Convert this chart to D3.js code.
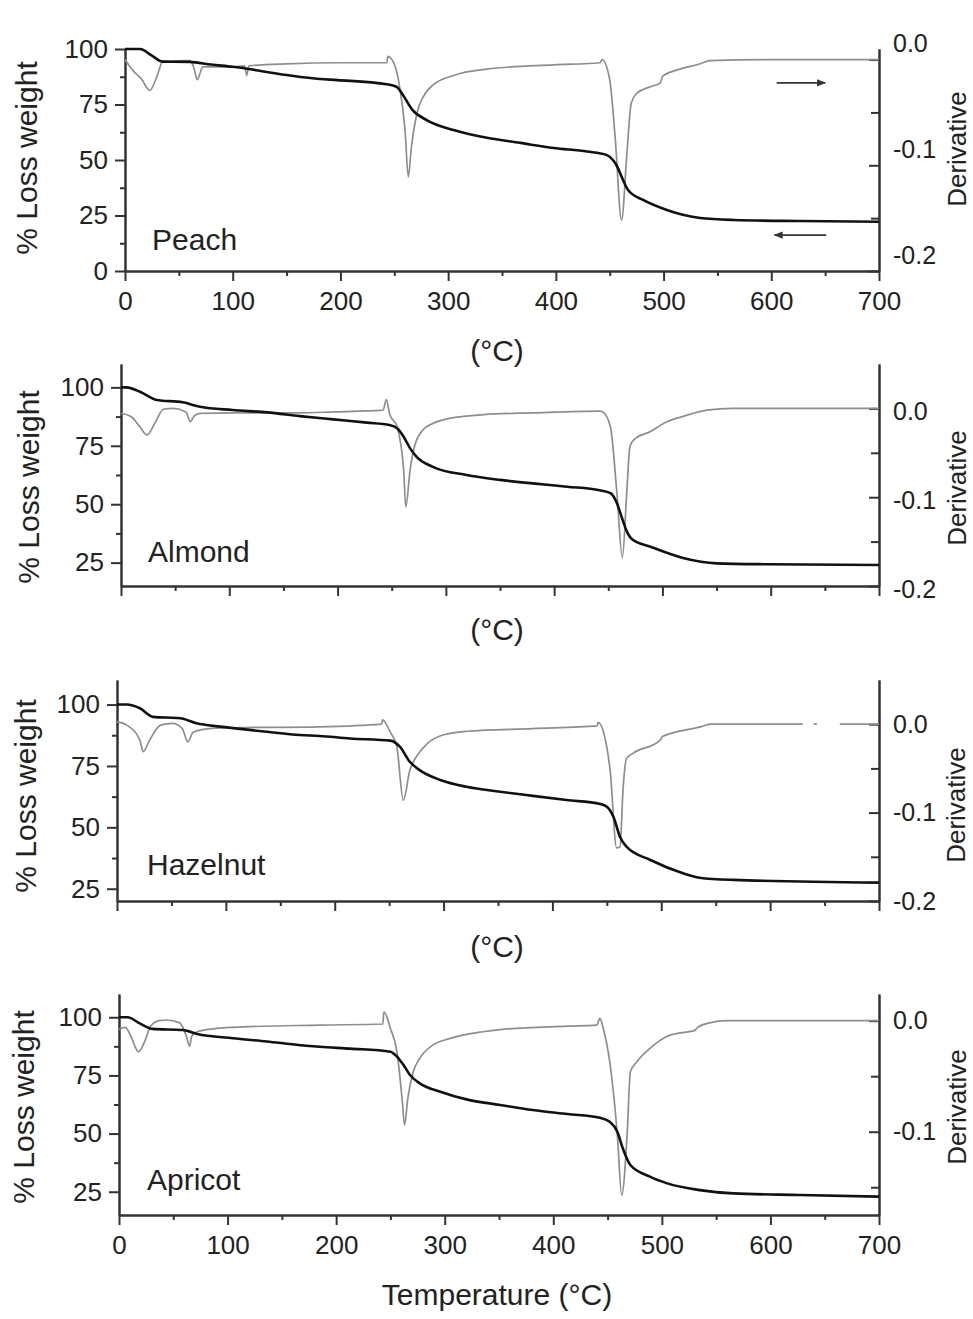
<!DOCTYPE html>
<html>
<head>
<meta charset="utf-8">
<script src="https://cdn.jsdelivr.net/npm/d3@7"></script>
<style>
  body { margin: 0; background: #fff; }
  svg text { font-family: "Liberation Sans", Arial, sans-serif; fill: #222; }
</style>
</head>
<body>
<svg id="chart" width="973" height="1319"></svg>
<script>
// TGA curves: [temperature °C, % weight]; DTG curves: [temperature °C, derivative]
const peachTG = [[0,100],[14,100],[25,97],[35,94.3],[60,94.2],[80,93],[100,92],[150,88.3],[181,86.5],[197,86],[243,84.1],[252,83],[258,79.3],[267,72.5],[280,68],[305,63.5],[336,60],[367,57.7],[398,55.4],[429,53.8],[447,52.3],[453,50],[457,47],[461,42.5],[467,36.5],[481,32],[503,27.5],[534,23.9],[565,23],[627,22.5],[700,22.2]];
const peachDTG = [[0,0],[7,-0.010],[15,-0.018],[23,-0.029],[30,-0.015],[35,-0.002],[60,-0.001],[64,-0.008],[67,-0.019],[70,-0.012],[72,-0.007],[100,-0.007],[111,-0.006],[113,-0.015],[115,-0.006],[150,-0.004],[200,-0.003],[243,-0.003],[244,0.003],[251,-0.007],[255,-0.026],[260,-0.067],[263,-0.111],[266,-0.082],[271,-0.051],[277,-0.035],[286,-0.024],[305,-0.015],[336,-0.009],[398,-0.005],[441,-0.003],[443,0.0],[450,-0.019],[455,-0.073],[461,-0.152],[466,-0.088],[470,-0.041],[475,-0.032],[487,-0.026],[497,-0.022],[499,-0.016],[512,-0.010],[534,-0.004],[543,-0.001],[600,0],[700,0]];

const almondTG = [[0,100],[5,100],[17.5,98.1],[33,94.6],[57,93.6],[73,91.7],[103,90.3],[135,89.3],[165,87.7],[196,86.3],[227,84.9],[248,83.9],[255,82.5],[261,78.9],[267,73.9],[273,70.3],[288,66],[319,62.5],[350,60.4],[380,58.9],[412,57.5],[442,56],[452,54.7],[458,50.4],[462,45],[467,38.5],[472,35],[489,31.8],[519,27],[550,24.7],[597,24.3],[700,24]];
const almondDTG = [[0,-0.0055],[10,-0.01],[17,-0.02],[24,-0.030],[32,-0.015],[39,-0.001],[48,0.0],[60,-0.004],[64,-0.015],[68,-0.008],[73,-0.0055],[103,-0.005],[165,-0.005],[196,-0.004],[242,-0.002],[245,0.010],[248,-0.006],[255,-0.021],[261,-0.069],[263,-0.111],[267,-0.069],[271,-0.043],[279,-0.024],[288,-0.017],[304,-0.011],[335,-0.007],[380,-0.005],[442,-0.003],[445,-0.004],[452,-0.021],[458,-0.096],[463,-0.168],[467,-0.096],[470,-0.043],[474,-0.035],[489,-0.026],[504,-0.015],[519,-0.009],[541,-0.002],[565,0],[700,0]];

const hazelnutTG = [[0,100],[9,100],[21,98.5],[33,95],[58,94.4],[73,92.4],[95,91],[138,88.9],[168,87.6],[186,87.2],[214,86.2],[251,85.3],[260,82.8],[269,76.7],[278,73.3],[297,69.3],[321,66.5],[352,64.5],[382,62.8],[413,61.1],[444,59.5],[450,58.4],[456,54.3],[462,46.2],[468,42.1],[490,36.7],[520,31.3],[535,29.5],[566,28.6],[700,27.5]];
const hazelnutDTG = [[0,0.003],[9,-0.001],[21,-0.018],[24,-0.031],[30,-0.018],[40,-0.001],[51,0.001],[60,-0.005],[65,-0.020],[70,-0.009],[85,-0.005],[107,-0.004],[186,-0.003],[243,0.0],[244,0.005],[251,-0.009],[257,-0.025],[263,-0.086],[269,-0.052],[276,-0.035],[285,-0.022],[300,-0.012],[321,-0.008],[382,-0.005],[441,-0.002],[442,0.002],[448,-0.014],[453,-0.052],[459,-0.140],[462,-0.139],[465,-0.071],[468,-0.039],[474,-0.033],[499,-0.018],[501,-0.014],[536,-0.003],[545,0],[630,0],[632,null],[640,0],[643,0],[645,null],[664,0],[700,0]];

const apricotTG = [[0,100],[8,100],[19,97.4],[31,95],[59,94.5],[72,92.8],[105,91],[136,89.6],[167,88],[185,87.3],[213,86.5],[250,85.2],[256,83.1],[262,79.5],[268,75.2],[277,71.6],[296,68],[320,64.7],[351,62.3],[381,60.1],[413,58.4],[443,56.8],[452,55.1],[459,50.8],[464,43.7],[471,36.5],[489,31.5],[505,28.6],[535,25.7],[566,24.3],[627,23.6],[700,22.9]];
const apricotDTG = [[0,-0.008],[6,-0.006],[10,-0.012],[18,-0.028],[24,-0.018],[29,-0.005],[37,0.0],[44,0.0006],[56,-0.002],[62,-0.014],[65,-0.023],[67,-0.014],[72,-0.010],[90,-0.007],[105,-0.006],[185,-0.004],[243,-0.003],[244,0.008],[250,-0.007],[256,-0.028],[261,-0.073],[263,-0.094],[266,-0.070],[271,-0.046],[277,-0.034],[289,-0.022],[305,-0.016],[335,-0.010],[351,-0.008],[413,-0.005],[440,-0.004],[443,0.002],[446,-0.007],[452,-0.037],[459,-0.103],[463,-0.157],[468,-0.103],[471,-0.046],[477,-0.037],[489,-0.025],[505,-0.014],[517,-0.011],[530,-0.009],[533,-0.006],[544,-0.002],[560,0],[700,0]];

// tick values
const tempTicks = [0, 100, 200, 300, 400, 500, 600, 700];
const tempMinor = [50, 150, 250, 350, 450, 550, 650];
const lossTicks = [0, 25, 50, 75, 100];
const lossMinor = [12.5, 37.5, 62.5, 87.5];
const derivTicks = [0, -0.1, -0.2];
const derivMinor = [-0.05, -0.15];

const panels = [
  { name: "Peach", tg: peachTG, dtg: peachDTG, left: 125, right: 879, top: 49, bottom: 271,
    yDomain: [0, 100], dDomain: [-0.2, 0.01], dShift: -16, xLabels: true,
    title: "(°C)", titleY: 361, nameX: 152, nameY: 250, yTitle: [37, 158], dTitle: [966, 149], arrows: true },
  { name: "Almond", tg: almondTG, dtg: almondDTG, left: 121, right: 879, top: 364, bottom: 586,
    yDomain: [15, 110], dDomain: [-0.2, 0.05], dShift: 3, xLabels: false,
    title: "(°C)", titleY: 640, nameX: 148, nameY: 562, yTitle: [39, 487], dTitle: [966, 488] },
  { name: "Hazelnut", tg: hazelnutTG, dtg: hazelnutDTG, left: 117, right: 879, top: 680, bottom: 901,
    yDomain: [20, 110], dDomain: [-0.2, 0.05], dShift: 0, xLabels: false,
    title: "(°C)", titleY: 957, nameX: 147, nameY: 875, yTitle: [36, 796], dTitle: [965, 805] },
  { name: "Apricot", tg: apricotTG, dtg: apricotDTG, left: 119, right: 879, top: 994, bottom: 1215,
    yDomain: [15, 110], dDomain: [-0.175, 0.024], dShift: 0, xLabels: true,
    title: "Temperature (°C)", titleY: 1305, nameX: 147, nameY: 1190, yTitle: [34, 1107], dTitle: [966, 1107] }
];

const svg = d3.select("#chart");
svg.append("rect").attr("width", 973).attr("height", 1319).attr("fill", "#fff");

svg.append("defs").append("marker").attr("id", "head")
  .attr("viewBox", "0 0 10 10").attr("refX", 9).attr("refY", 5)
  .attr("markerWidth", 12).attr("markerHeight", 9).attr("orient", "auto")
  .attr("markerUnits", "userSpaceOnUse")
  .append("path").attr("d", "M0,1 L10,5 L0,9 Z").attr("fill", "#333");

// plain hyphen, as in the figure
const derivFormat = d => d.toFixed(1);

function styleAxis(g, size) {
  g.attr("font-family", "Liberation Sans, Arial, sans-serif").attr("font-size", size);
  g.selectAll(".domain").attr("stroke", "#333").attr("stroke-width", 2);
  g.selectAll(".tick line").attr("stroke", "#333").attr("stroke-width", 2);
  g.selectAll(".tick text").attr("fill", "#222");
}

panels.forEach(p => {
  const x = d3.scaleLinear().domain([0, 700]).range([p.left, p.right]);
  const y = d3.scaleLinear().domain(p.yDomain).range([p.bottom, p.top]);
  const yd = d3.scaleLinear().domain(p.dDomain).range([p.bottom, p.top]);
  const g = svg.append("g");

  const inY = v => v >= p.yDomain[0] && v <= p.yDomain[1];
  const inD = v => v >= p.dDomain[0] - 1e-9 && v <= p.dDomain[1];

  // bottom axis
  g.append("g").attr("transform", `translate(0,${p.bottom})`)
    .call(d3.axisBottom(x).tickValues(tempMinor).tickSizeInner(5).tickSizeOuter(0).tickFormat(""))
    .call(a => styleAxis(a, 26));
  g.append("g").attr("transform", `translate(0,${p.bottom})`)
    .call(d3.axisBottom(x).tickValues(tempTicks).tickSizeInner(10).tickSizeOuter(0).tickPadding(11)
      .tickFormat(p.xLabels ? d3.format("d") : ""))
    .call(a => styleAxis(a, 26));

  // left axis
  g.append("g").attr("transform", `translate(${p.left},0)`)
    .call(d3.axisLeft(y).tickValues(lossMinor.filter(inY)).tickSizeInner(5).tickSizeOuter(0).tickFormat(""))
    .call(a => styleAxis(a, 26));
  g.append("g").attr("transform", `translate(${p.left},0)`)
    .call(d3.axisLeft(y).tickValues(lossTicks.filter(inY)).tickSizeInner(10).tickSizeOuter(0).tickPadding(7))
    .call(a => styleAxis(a, 26));

  // right axis, ticks pointing inwards
  g.append("g").attr("transform", `translate(${p.right},0)`)
    .call(d3.axisRight(yd).tickValues(derivMinor.filter(inD)).tickSizeInner(-8).tickSizeOuter(0).tickFormat(""))
    .call(a => styleAxis(a, 25));
  g.append("g").attr("transform", `translate(${p.right},0)`)
    .call(d3.axisRight(yd).tickValues(derivTicks.filter(inD)).tickSizeInner(-10).tickSizeOuter(0)
      .tickFormat(derivFormat))
    .call(a => styleAxis(a, 25))
    .call(a => a.selectAll(".tick text").attr("x", 14).attr("y", p.dShift));

  // curves
  const dLine = d3.line().defined(d => d[1] !== null)
    .x(d => x(d[0])).y(d => yd(d[1])).curve(d3.curveMonotoneX);
  const tLine = d3.line().x(d => x(d[0])).y(d => y(d[1])).curve(d3.curveMonotoneX);

  g.append("path").datum(p.dtg).attr("d", dLine)
    .attr("fill", "none").attr("stroke", "#8e8e8e").attr("stroke-width", 1.7);
  g.append("path").datum(p.tg).attr("d", tLine)
    .attr("fill", "none").attr("stroke", "#111").attr("stroke-width", 2.6);

  // sample name
  g.append("text").attr("x", p.nameX).attr("y", p.nameY)
    .attr("font-size", 30).text(p.name);

  // axis titles
  g.append("text").attr("transform", `translate(${p.yTitle[0]},${p.yTitle[1]}) rotate(-90)`)
    .attr("text-anchor", "middle").attr("font-size", 30).text("% Loss weight");
  g.append("text").attr("transform", `translate(${p.dTitle[0]},${p.dTitle[1]}) rotate(-90)`)
    .attr("text-anchor", "middle").attr("font-size", 26).text("Derivative");
  g.append("text").attr("x", 497).attr("y", p.titleY)
    .attr("text-anchor", "middle").attr("font-size", 30).text(p.title);

  if (p.arrows) {
    g.append("line").attr("x1", x(605)).attr("x2", x(650)).attr("y1", yd(-0.022)).attr("y2", yd(-0.022))
      .attr("stroke", "#333").attr("stroke-width", 1.8).attr("marker-end", "url(#head)");
    g.append("line").attr("x1", x(651)).attr("x2", x(603)).attr("y1", y(16.2)).attr("y2", y(16.2))
      .attr("stroke", "#333").attr("stroke-width", 1.8).attr("marker-end", "url(#head)");
  }
});
</script>
</body>
</html>
